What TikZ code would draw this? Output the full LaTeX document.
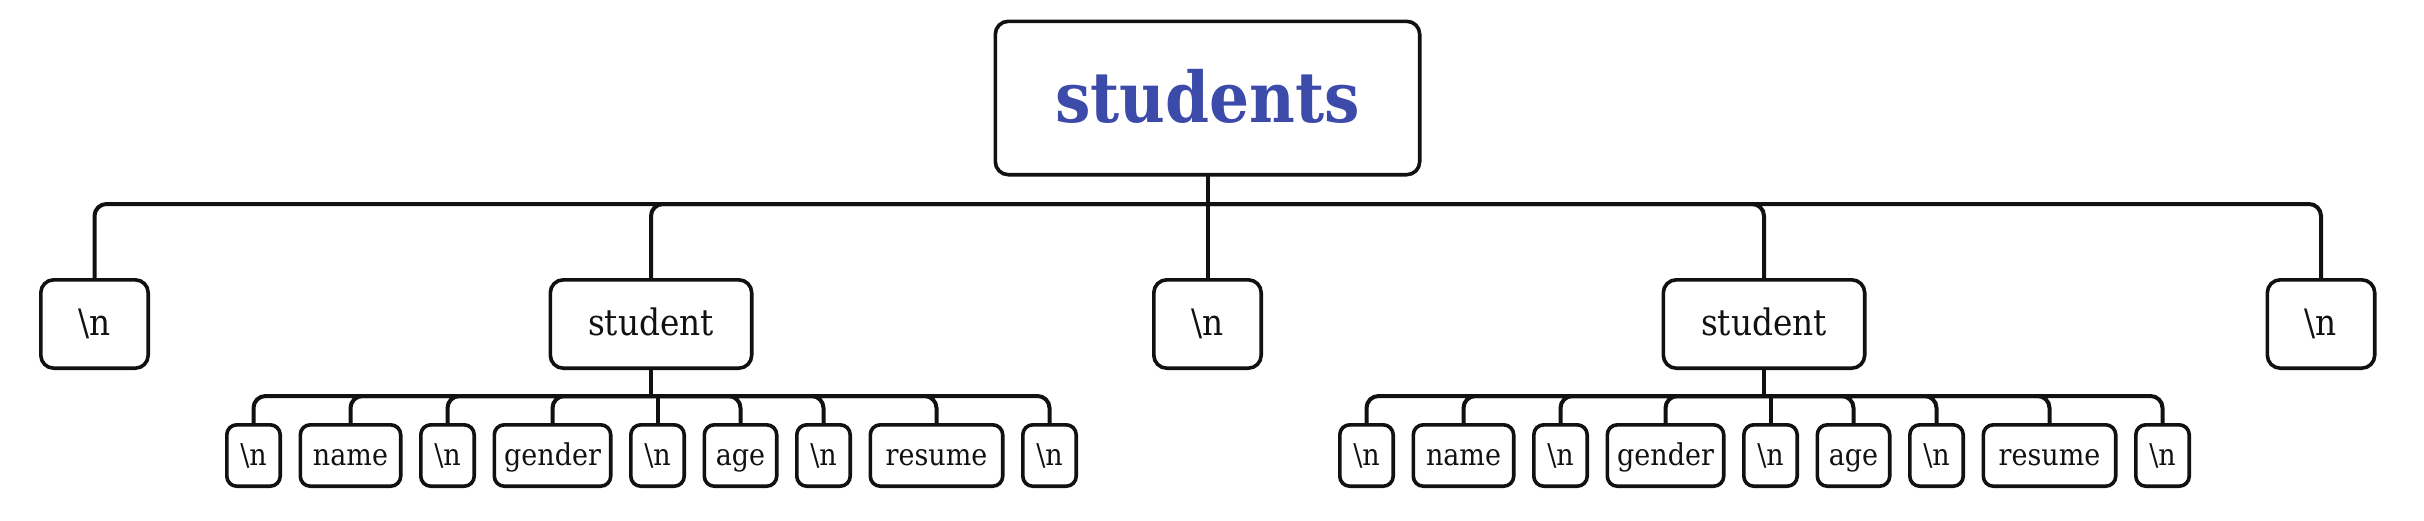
\documentclass[tikz,border=0pt]{standalone}
\usepackage{fontspec}
\setmainfont{DejaVu Serif Condensed}
\usetikzlibrary{positioning}
\definecolor{titleblue}{RGB}{60,75,170}
\definecolor{ink}{RGB}{17,17,17}
\begin{document}
\begin{tikzpicture}[x=0.5pt,y=-0.5pt,
  box/.style={draw=ink,line width=1.8pt,rounded corners=6.5pt,fill=white,inner sep=0pt,outer sep=0pt,align=center},
  rootbox/.style={box,minimum width=212.2pt,minimum height=76.7pt,font=\fontsize{35}{40}\selectfont\bfseries,text=titleblue,text height=27pt,text depth=3pt},
  midbox/.style={box,minimum width=#1,minimum height=44.2pt,font=\fontsize{18.2}{21}\selectfont,text=ink,text height=14pt,text depth=3pt},
  leaf/.style={box,rounded corners=5pt,minimum width=#1,minimum height=30.7pt,font=\fontsize{15}{18}\selectfont,text=ink,text height=11.5pt,text depth=2pt},
  conn/.style={draw=ink,line width=2pt,rounded corners=6pt},
  gap/.style={right=10.05pt of #1}
]
\useasboundingbox (0,0) rectangle (2424,520);
% root
\node[rootbox] (root) at (1207.5,98) {students};
% level 1
\node[midbox=53.7pt] (l1a) at (94.5,324) {\textbackslash n};
\node[midbox=100.7pt] (s1) at (651,324) {student};
\node[midbox=53.7pt] (l1c) at (1207.5,324) {\textbackslash n};
\node[midbox=100.7pt] (s2) at (1764,324) {student};
\node[midbox=53.7pt] (l1e) at (2321,324) {\textbackslash n};
\coordinate (bus0) at (1207.5,204);
\draw[conn] (root.south) -- (l1c.north);
\draw[conn] (l1a.north) |- (bus0);
\draw[conn] (s1.north) |- (bus0);
\draw[conn] (s2.north) |- (bus0);
\draw[conn] (l1e.north) |- (bus0);
% level 2, group 1
\node[leaf=26.7pt,anchor=west] (a1) at (226.8,455.5) {\textbackslash n};
\node[leaf=50.2pt,gap=a1] (a2) {name};
\node[leaf=26.7pt,gap=a2] (a3) {\textbackslash n};
\node[leaf=58.2pt,gap=a3] (a4) {gender};
\node[leaf=26.7pt,gap=a4] (a5) {\textbackslash n};
\node[leaf=36.2pt,gap=a5] (a6) {age};
\node[leaf=26.7pt,gap=a6] (a7) {\textbackslash n};
\node[leaf=66.2pt,gap=a7] (a8) {resume};
\node[leaf=26.7pt,gap=a8] (a9) {\textbackslash n};
\coordinate (bus1) at (651,396);
\draw[conn] (s1.south) -- (bus1);
\foreach \c in {a1,a2,a3,a4,a6,a7,a8,a9}{\draw[conn] (\c.north) |- (bus1);}
\draw[conn] (a5.north) -- (a5.north |- bus1);
% level 2, group 2
\node[leaf=26.7pt,anchor=west] (b1) at (1339.8,455.5) {\textbackslash n};
\node[leaf=50.2pt,gap=b1] (b2) {name};
\node[leaf=26.7pt,gap=b2] (b3) {\textbackslash n};
\node[leaf=58.2pt,gap=b3] (b4) {gender};
\node[leaf=26.7pt,gap=b4] (b5) {\textbackslash n};
\node[leaf=36.2pt,gap=b5] (b6) {age};
\node[leaf=26.7pt,gap=b6] (b7) {\textbackslash n};
\node[leaf=66.2pt,gap=b7] (b8) {resume};
\node[leaf=26.7pt,gap=b8] (b9) {\textbackslash n};
\coordinate (bus2) at (1764,396);
\draw[conn] (s2.south) -- (bus2);
\foreach \c in {b1,b2,b3,b4,b6,b7,b8,b9}{\draw[conn] (\c.north) |- (bus2);}
\draw[conn] (b5.north) -- (b5.north |- bus2);
\end{tikzpicture}
\end{document}
